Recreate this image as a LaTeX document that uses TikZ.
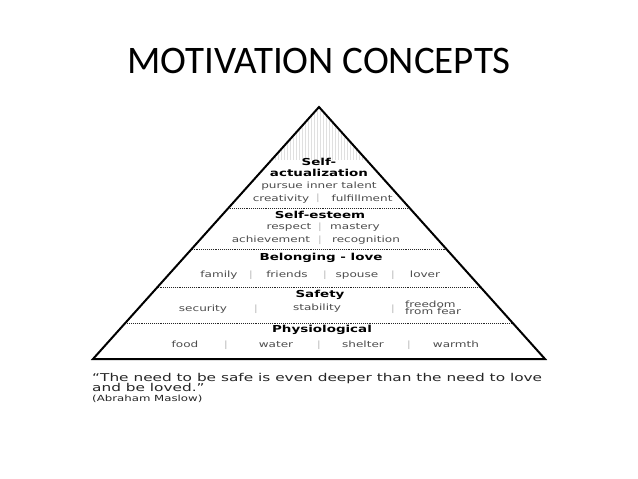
\documentclass[tikz,border=0pt]{standalone}
\usepackage{fontspec}
\setmainfont{DejaVu Sans}
\newfontfamily\titlefont{Carlito}
\newcommand{\xs}[1]{\scalebox{1.4}[1]{#1}}
\begin{document}
\begin{tikzpicture}[x=1pt,y=-1pt,
  head/.style={font=\fontsize{9.6}{10}\selectfont\bfseries, inner sep=0, text height=7pt, text depth=2pt},
  item/.style={font=\fontsize{8.6}{9}\selectfont, text=black!70, inner sep=0, text height=6.5pt, text depth=2pt},
  sepbar/.style={font=\fontsize{8.6}{9}\selectfont, text=black!25, inner sep=0},
  quote/.style={font=\fontsize{10.8}{11}\selectfont, text=black!85, inner sep=0, anchor=base west},
  levelline/.style={densely dotted, line width=0.9pt, black!85},
  hatch/.style={black!12, line width=0.4pt}]
\useasboundingbox (0,0) rectangle (638,479);
\fill[white] (0,0) rectangle (638,479);
\node[font=\titlefont\fontsize{39}{40}\selectfont, inner sep=0] (title) at (319,61) {MOTIVATION CONCEPTS};
\coordinate (apex) at (319,107);
\coordinate (bl) at (93,359);
\coordinate (br) at (545,359);
% faint hatching in the top
\begin{scope}
  \clip (apex) -- (228.4,208) -- (409.6,208) -- cycle;
  \foreach \x in {230,233,...,410} \draw[hatch] (\x,100) -- (\x,160);
\end{scope}
% level lines
\coordinate (l1a) at (228.4,208); \coordinate (l1b) at (409.6,208);
\coordinate (l2a) at (191.7,249); \coordinate (l2b) at (446.3,249);
\coordinate (l3a) at (157.6,287); \coordinate (l3b) at (480.4,287);
\coordinate (l4a) at (125.3,323); \coordinate (l4b) at (512.7,323);
\draw[levelline] (l1a) -- (l1b);
\draw[levelline] (l2a) -- (l2b);
\draw[levelline] (l3a) -- (l3b);
\draw[levelline] (l4a) -- (l4b);
\draw[line width=2pt, line join=miter] (bl) -- (apex) -- (br) -- cycle;
% self-actualization
\node[head] (sa1) at (319,163) {\xs{Self-}};
\node[head] (sa2) at (319,174) {\xs{actualization}};
\node[item] (sa3) at (319,186) {\xs{pursue inner talent}};
\node[item] (sa4) at (281,199) {\xs{creativity}};
\node[sepbar] (sa5) at (318,198) {\xs{|}};
\node[item] (sa6) at (362,199) {\xs{fulfillment}};
% self-esteem
\node[head] (se1) at (320,216) {\xs{Self-esteem}};
\node[item] (se2) at (289,227) {\xs{respect}};
\node[sepbar] (se3) at (320,227) {\xs{|}};
\node[item] (se4) at (355,227) {\xs{mastery}};
\node[item] (se5) at (271,240) {\xs{achievement}};
\node[sepbar] (se6) at (320,240) {\xs{|}};
\node[item] (se7) at (366,240) {\xs{recognition}};
% belonging
\node[head] (b1) at (321,258) {\xs{Belonging - love}};
\node[item] (b2) at (219,275) {\xs{family}};
\node[sepbar] (b3) at (251,275) {\xs{|}};
\node[item] (b4) at (287,275) {\xs{friends}};
\node[sepbar] (b5) at (325,275) {\xs{|}};
\node[item] (b6) at (357,275) {\xs{spouse}};
\node[sepbar] (b7) at (393,275) {\xs{|}};
\node[item] (b8) at (425,275) {\xs{lover}};
% safety
\node[head] (s1) at (320,295) {\xs{Safety}};
\node[item] (s2) at (203,309) {\xs{security}};
\node[sepbar] (s3) at (256,309) {\xs{|}};
\node[item] (s4) at (317,308) {\xs{stability}};
\node[sepbar] (s5) at (393,309) {\xs{|}};
\node[item, align=left, anchor=west, text height=, text depth=] (s6) at (405,308) {\xs{freedom}\\[-1.5pt]\xs{from fear}};
% physiological
\node[head] (p1) at (322,330) {\xs{Physiological}};
\node[item] (p2) at (185,345) {\xs{food}};
\node[sepbar] (p3) at (226,345) {\xs{|}};
\node[item] (p4) at (276,345) {\xs{water}};
\node[sepbar] (p5) at (319,345) {\xs{|}};
\node[item] (p6) at (363,345) {\xs{shelter}};
\node[sepbar] (p7) at (409,345) {\xs{|}};
\node[item] (p8) at (456,345) {\xs{warmth}};
% quote
\node[quote] (q1) at (92,381) {\scalebox{1.42}[1]{“The need to be safe is even deeper than the need to love}};
\node[quote] (q2) at (92,391.5) {\scalebox{1.42}[1]{and be loved.”}};
\node[quote, font=\fontsize{8.4}{9}\selectfont] (q3) at (92,401) {\xs{(Abraham Maslow)}};
\end{tikzpicture}
\end{document}
